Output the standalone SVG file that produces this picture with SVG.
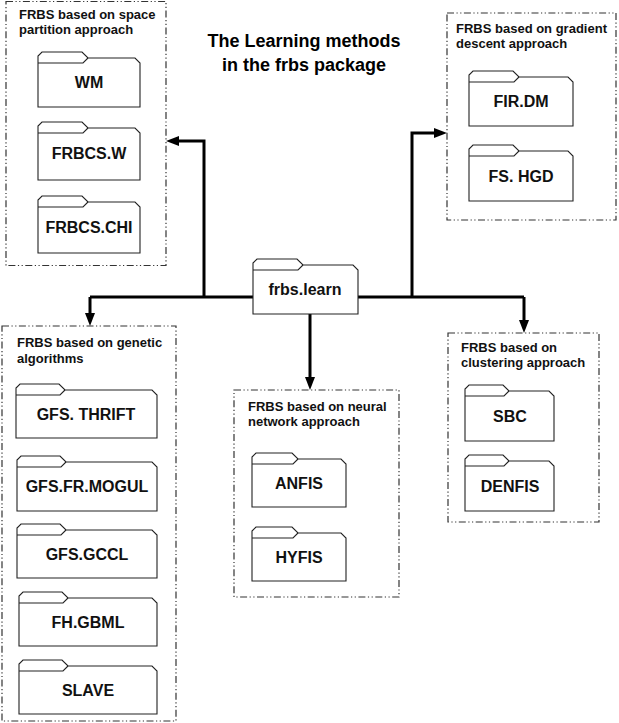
<svg xmlns="http://www.w3.org/2000/svg" width="619" height="723" viewBox="0 0 619 723">
<style>
.grp{fill:none;stroke:#333;stroke-width:1.2;stroke-dasharray:7 2.5 1.2 2.5 1.2 2.5}
.gt{font-family:"Liberation Sans",Arial,sans-serif;font-weight:bold;font-size:13px;fill:#111}
.fd{fill:#fff;stroke:#222;stroke-width:1.1}
.ft{font-family:"Liberation Sans",Arial,sans-serif;font-weight:bold;font-size:16px;fill:#111;text-anchor:middle}
.title{font-family:"Liberation Sans",Arial,sans-serif;font-weight:bold;font-size:18px;fill:#000;text-anchor:middle}
.cn{fill:none;stroke:#000;stroke-width:3}
</style>
<defs>
<marker id="ah" markerUnits="userSpaceOnUse" markerWidth="13" markerHeight="11" refX="0" refY="5" orient="auto" viewBox="0 0 13 10">
<path d="M0,0 L13,5 L0,10 Z" fill="#000"/>
</marker>
</defs>
<rect width="619" height="723" fill="#fff"/>
<text class="title" x="304" y="47">The Learning methods</text>
<text class="title" x="304" y="71">in the frbs package</text>

<g id="connectors">
<path class="cn" d="M90,297 H524"/>
<path class="cn" d="M204,297 V141 H179" marker-end="url(#ah)"/>
<path class="cn" d="M412,297 V133 H434" marker-end="url(#ah)"/>
<path class="cn" d="M310,314 V377" marker-end="url(#ah)"/>
<path class="cn" d="M90,297 V313" marker-end="url(#ah)"/>
<path class="cn" d="M524,297 V320" marker-end="url(#ah)"/>
</g>

<g id="space-partition">
<rect class="grp" x="6" y="1.5" width="160" height="264"/>
<text class="gt" x="19" y="19">FRBS based on space</text>
<text class="gt" x="19" y="34">partition approach</text>
<g id="WM"><path class="fd" d="M38,107 V56 L42,52 H82 L88,58 H135 L140,63 V107 Z M38,63 H83 L88,58"/><text class="ft" x="89" y="88">WM</text></g>
<g id="FRBCS.W"><path class="fd" d="M38,180 V126 L42,122 H82 L88,128 H135 L140,133 V180 Z M38,133 H83 L88,128"/><text class="ft" x="89" y="159">FRBCS.W</text></g>
<g id="FRBCS.CHI"><path class="fd" d="M38,253 V200 L42,196 H82 L88,202 H135 L140,207 V253 Z M38,207 H83 L88,202"/><text class="ft" x="89" y="233">FRBCS.CHI</text></g>
</g>

<g id="gradient-descent">
<rect class="grp" x="447" y="13" width="169" height="207"/>
<text class="gt" x="456" y="33">FRBS based on gradient</text>
<text class="gt" x="456" y="48">descent approach</text>
<g id="FIR.DM"><path class="fd" d="M469,126 V75 L473,71 H513 L519,77 H568 L573,82 V126 Z M469,82 H514 L519,77"/><text class="ft" x="521" y="107">FIR.DM</text></g>
<g id="FS.HGD"><path class="fd" d="M469,201 V149 L473,145 H513 L519,151 H568 L573,156 V201 Z M469,156 H514 L519,151"/><text class="ft" x="521" y="182">FS. HGD</text></g>
</g>

<g id="frbs.learn">
<path class="fd" d="M253,314 V263 L257,259 H297 L303,265 H353 L358,270 V314 Z M253,270 H298 L303,265"/>
<text class="ft" x="305" y="295">frbs.learn</text>
</g>

<g id="genetic">
<rect class="grp" x="2" y="326" width="174" height="395"/>
<text class="gt" x="17" y="347">FRBS based on genetic</text>
<text class="gt" x="17" y="363">algorithms</text>
<g id="GFS.THRIFT"><path class="fd" d="M16,438 V388 L20,384 H59 L65,390 H152 L157,395 V438 Z M16,395 H60 L65,390"/><text class="ft" x="86" y="420">GFS. THRIFT</text></g>
<g id="GFS.FR.MOGUL"><path class="fd" d="M17,511 V460 L21,456 H60 L66,462 H152 L157,467 V511 Z M17,467 H61 L66,462"/><text class="ft" x="87" y="492">GFS.FR.MOGUL</text></g>
<g id="GFS.GCCL"><path class="fd" d="M17,578 V528 L21,524 H60 L66,530 H152 L157,535 V578 Z M17,535 H61 L66,530"/><text class="ft" x="87" y="560">GFS.GCCL</text></g>
<g id="FH.GBML"><path class="fd" d="M19,646 V596 L23,592 H62 L68,598 H152 L157,603 V646 Z M19,603 H63 L68,598"/><text class="ft" x="88" y="628">FH.GBML</text></g>
<g id="SLAVE"><path class="fd" d="M19,714 V664 L23,660 H62 L68,666 H152 L157,671 V714 Z M19,671 H63 L68,666"/><text class="ft" x="88" y="696">SLAVE</text></g>
</g>

<g id="neural">
<rect class="grp" x="234" y="390" width="165" height="207"/>
<text class="gt" x="248" y="411">FRBS based on neural</text>
<text class="gt" x="248" y="426">network approach</text>
<g id="ANFIS"><path class="fd" d="M252,507 V457 L256,453 H292 L298,459 H341 L346,464 V507 Z M252,464 H293 L298,459"/><text class="ft" x="299" y="489">ANFIS</text></g>
<g id="HYFIS"><path class="fd" d="M252,581 V531 L256,527 H292 L298,533 H341 L346,538 V581 Z M252,538 H293 L298,533"/><text class="ft" x="299" y="563">HYFIS</text></g>
</g>

<g id="clustering">
<rect class="grp" x="448" y="333" width="151" height="189"/>
<text class="gt" x="461" y="352">FRBS based on</text>
<text class="gt" x="461" y="367">clustering approach</text>
<g id="SBC"><path class="fd" d="M465,441 V389 L469,385 H503 L509,391 H549 L554,396 V441 Z M465,396 H504 L509,391"/><text class="ft" x="510" y="422">SBC</text></g>
<g id="DENFIS"><path class="fd" d="M465,511 V459 L469,455 H503 L509,461 H549 L554,466 V511 Z M465,466 H504 L509,461"/><text class="ft" x="510" y="492">DENFIS</text></g>
</g>
</svg>
